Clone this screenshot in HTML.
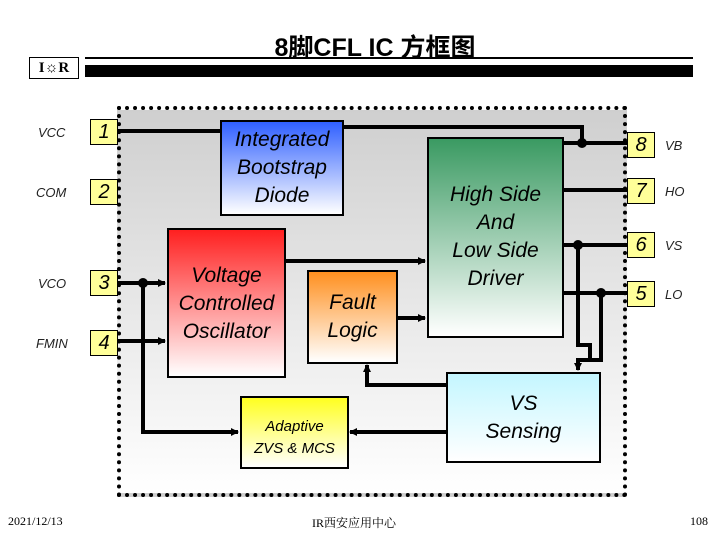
<!DOCTYPE html>
<html><head><meta charset="utf-8"><style>
body{margin:0;width:720px;height:540px;background:#fff;position:relative;overflow:hidden;font-family:"Liberation Sans","Noto Sans CJK SC",sans-serif}
.a{position:absolute}
.pin{position:absolute;width:26px;height:24px;background:#ffff99;border:1px solid #000;font-size:20px;font-style:italic;text-align:center;line-height:24px}
.lab{position:absolute;font-size:13px;font-style:italic;color:#222}
.blk{position:absolute;border:2px solid #000;box-sizing:border-box;display:flex;align-items:center;justify-content:center;text-align:center;font-style:italic;font-size:21px;line-height:28px}
</style></head><body>
<div class="a" style="left:0;width:750px;top:28px;text-align:center;font-size:25px;font-weight:bold;font-family:'Liberation Sans','Noto Sans CJK SC',sans-serif">8脚CFL IC 方框图</div>
<div class="a" style="left:29px;top:57px;width:48px;height:20px;border:1px solid #000;font:bold 15px 'Liberation Serif',serif;text-align:center;line-height:20px">I☼R</div>
<div class="a" style="left:85px;top:57px;width:608px;height:2px;background:#000"></div>
<div class="a" style="left:85px;top:65px;width:608px;height:12px;background:#000"></div>
<div class="a" style="left:117px;top:106px;width:510px;height:391px;border:4px dotted #000;box-sizing:border-box;background:linear-gradient(#cfcfcf,#fff)"></div>
<svg class="a" style="left:0;top:0" width="720" height="540">
<defs><marker id="m" markerWidth="8" markerHeight="8" refX="7" refY="4" orient="auto" markerUnits="userSpaceOnUse"><path d="M0,0L8,4L0,8z"/></marker></defs>
<g stroke="#000" stroke-width="4" fill="none">
<path d="M118 131H220"/>
<path d="M343 127H582V143"/>
<path d="M563 143H627"/>
<path d="M563 190H627"/>
<path d="M563 245H627"/>
<path d="M563 293H627"/>
<path d="M578 245V345H590V360H578V370" marker-end="url(#m)"/>
<path d="M601 293V360H590"/>
<path d="M285 261H425" marker-end="url(#m)"/>
<path d="M397 318H425" marker-end="url(#m)"/>
<path d="M118 283H165" marker-end="url(#m)"/>
<path d="M118 341H165" marker-end="url(#m)"/>
<path d="M143 283V432H238" marker-end="url(#m)"/>
<path d="M446 432H350" marker-end="url(#m)"/>
<path d="M446 385H367V365" marker-end="url(#m)"/>
</g>
<g fill="#000"><circle cx="582" cy="143" r="5"/><circle cx="578" cy="245" r="5"/><circle cx="601" cy="293" r="5"/><circle cx="143" cy="283" r="5"/></g>
</svg>
<div class="blk" style="left:220px;top:120px;width:124px;height:96px;background:linear-gradient(#3060ff,#fff)">Integrated<br>Bootstrap<br>Diode</div>
<div class="blk" style="left:427px;top:137px;width:137px;height:201px;background:linear-gradient(#3a9a62,#fff);align-items:flex-start;padding-top:42px">High Side<br>And<br>Low Side<br>Driver</div>
<div class="blk" style="left:167px;top:228px;width:119px;height:150px;background:linear-gradient(#ff2020,#fff);align-items:flex-start;padding-top:32px">Voltage<br>Controlled<br>Oscillator</div>
<div class="blk" style="left:307px;top:270px;width:91px;height:94px;background:linear-gradient(#ff9020,#fff)">Fault<br>Logic</div>
<div class="blk" style="left:240px;top:396px;width:109px;height:73px;background:linear-gradient(#ffff20,#fff);font-size:15px;line-height:22px;padding-top:10px">Adaptive<br>ZVS &amp; MCS</div>
<div class="blk" style="left:446px;top:372px;width:155px;height:91px;background:linear-gradient(#c4f6ff,#fff)">VS<br>Sensing</div>
<div class="pin" style="left:90px;top:119px">1</div>
<div class="pin" style="left:90px;top:179px">2</div>
<div class="pin" style="left:90px;top:270px">3</div>
<div class="pin" style="left:90px;top:330px">4</div>
<div class="pin" style="left:627px;top:132px">8</div>
<div class="pin" style="left:627px;top:178px">7</div>
<div class="pin" style="left:627px;top:232px">6</div>
<div class="pin" style="left:627px;top:281px">5</div>
<div class="lab" style="left:38px;top:125px">VCC</div>
<div class="lab" style="left:36px;top:185px">COM</div>
<div class="lab" style="left:38px;top:276px">VCO</div>
<div class="lab" style="left:36px;top:336px">FMIN</div>
<div class="lab" style="left:665px;top:138px">VB</div>
<div class="lab" style="left:665px;top:184px">HO</div>
<div class="lab" style="left:665px;top:238px">VS</div>
<div class="lab" style="left:665px;top:287px">LO</div>
<div class="a" style="left:8px;top:514px;font:12px 'Liberation Serif',serif">2021/12/13</div>
<div class="a" style="left:312px;top:514px;font:12px 'Liberation Serif','Noto Serif CJK SC',serif">IR西安应用中心</div>
<div class="a" style="left:690px;top:514px;font:12px 'Liberation Serif',serif">108</div>
</body></html>
